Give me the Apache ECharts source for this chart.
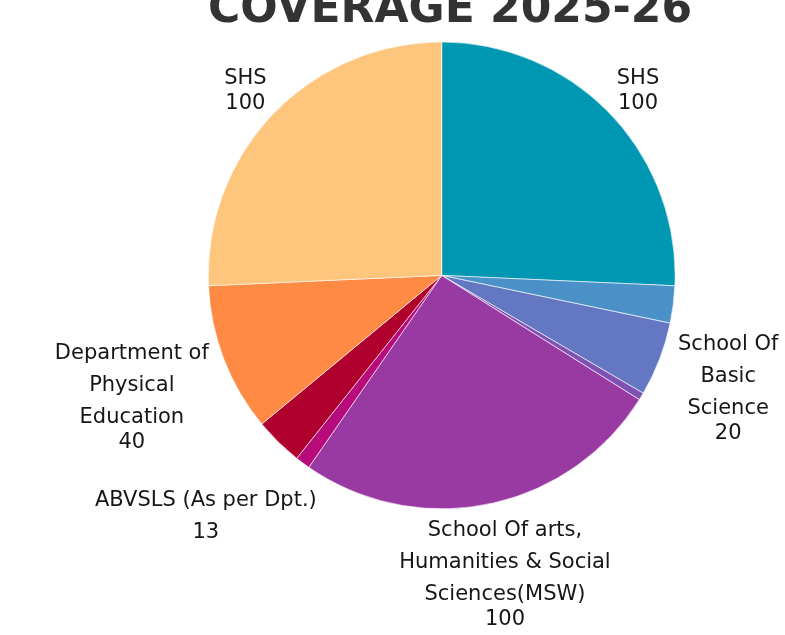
<!DOCTYPE html>
<html>
<head>
<meta charset="utf-8">
<script src="https://cdn.jsdelivr.net/npm/echarts@6/dist/echarts.min.js"></script>
<style>
  html, body { margin: 0; padding: 0; background: #fff; }
  #chart { width: 785px; height: 635px; }
</style>
</head>
<body>
<div id="chart"></div>
<script>
// Coverage per school / department, clockwise from 12 o'clock
const categories = [
  'SHS',
  '',
  'School Of\nBasic\nScience',
  '',
  'School Of arts,\nHumanities & Social\nSciences(MSW)',
  '',
  'ABVSLS (As per Dpt.)',
  'Department of\nPhysical\nEducation',
  'SHS'
];
const values = [100, 10, 20, 2, 100, 4, 13, 40, 100];
const sliceColors = [
  '#0097b2', '#4a91c7', '#6377c3', '#7d52b3', '#993aa3',
  '#b80b7b', '#b0002e', '#fe8a43', '#fec67c'
];
const titleText = 'COVERAGE 2025-26';

const FONT = '"DejaVu Sans", "Noto Sans", sans-serif';
const LABEL_GAP = 7;

const chart = echarts.init(document.getElementById('chart'), null, { renderer: 'canvas' });

// Place each label's box just outside the rim, centred on the slice's mid-angle ray,
// and keep it within the canvas.
function placeLabel(params) {
  const pts = params.labelLinePoints;
  if (!pts || pts.length < 2) return {};
  const dx = pts[1][0] - pts[0][0];
  const dy = pts[1][1] - pts[0][1];
  const len = Math.hypot(dx, dy) || 1;
  const nx = dx / len, ny = dy / len;
  const hw = params.labelRect.width / 2;
  const hh = params.labelRect.height / 2;
  const t = LABEL_GAP + Math.abs(nx) * hw + Math.abs(ny) * hh;
  let x = pts[0][0] + nx * t;
  let y = pts[0][1] + ny * t;
  const W = chart.getWidth(), H = chart.getHeight();
  x = Math.min(Math.max(x, hw + 2), W - hw - 1);
  y = Math.min(Math.max(y, hh + 2), H - hh - 8);
  return { x: x, y: y, align: 'center', verticalAlign: 'middle' };
}

function labelText(p) {
  const lines = p.name.split('\n').map(s => '{n|' + s + '}');
  lines.push('{v|' + p.value + '}');
  return lines.join('\n');
}

const pieData = values.map((v, i) => {
  const shown = categories[i] !== '';
  const item = {
    name: categories[i],
    value: v,
    itemStyle: { color: sliceColors[i] },
    label: { show: shown },
    labelLine: { show: shown }
  };
  if (categories[i].indexOf('ABVSLS') === 0) {
    item.label.rich = { v: { lineHeight: 32 } };
  }
  return item;
});

chart.setOption({
  backgroundColor: '#ffffff',
  animation: false,
  graphic: [{
    type: 'text',
    x: 450,
    y: 10.5,
    style: {
      text: titleText,
      font: 'bold 44px ' + FONT,
      fill: '#333333',
      align: 'center',
      verticalAlign: 'middle'
    }
  }],
  series: [{
    type: 'pie',
    center: [441.7, 275.4],
    radius: 233.4,
    startAngle: 90,
    clockwise: true,
    avoidLabelOverlap: false,
    silent: true,
    itemStyle: { borderColor: '#ffffff', borderWidth: 0.6 },
    label: {
      show: true,
      position: 'outside',
      formatter: labelText,
      rich: {
        n: { fontFamily: FONT, fontSize: 21, lineHeight: 32, color: '#161616' },
        v: { fontFamily: FONT, fontSize: 21, lineHeight: 18, color: '#161616' }
      }
    },
    labelLine: { show: true, length: 20, length2: 0, lineStyle: { opacity: 0 } },
    labelLayout: placeLabel,
    data: pieData
  }]
});
</script>
</body>
</html>
